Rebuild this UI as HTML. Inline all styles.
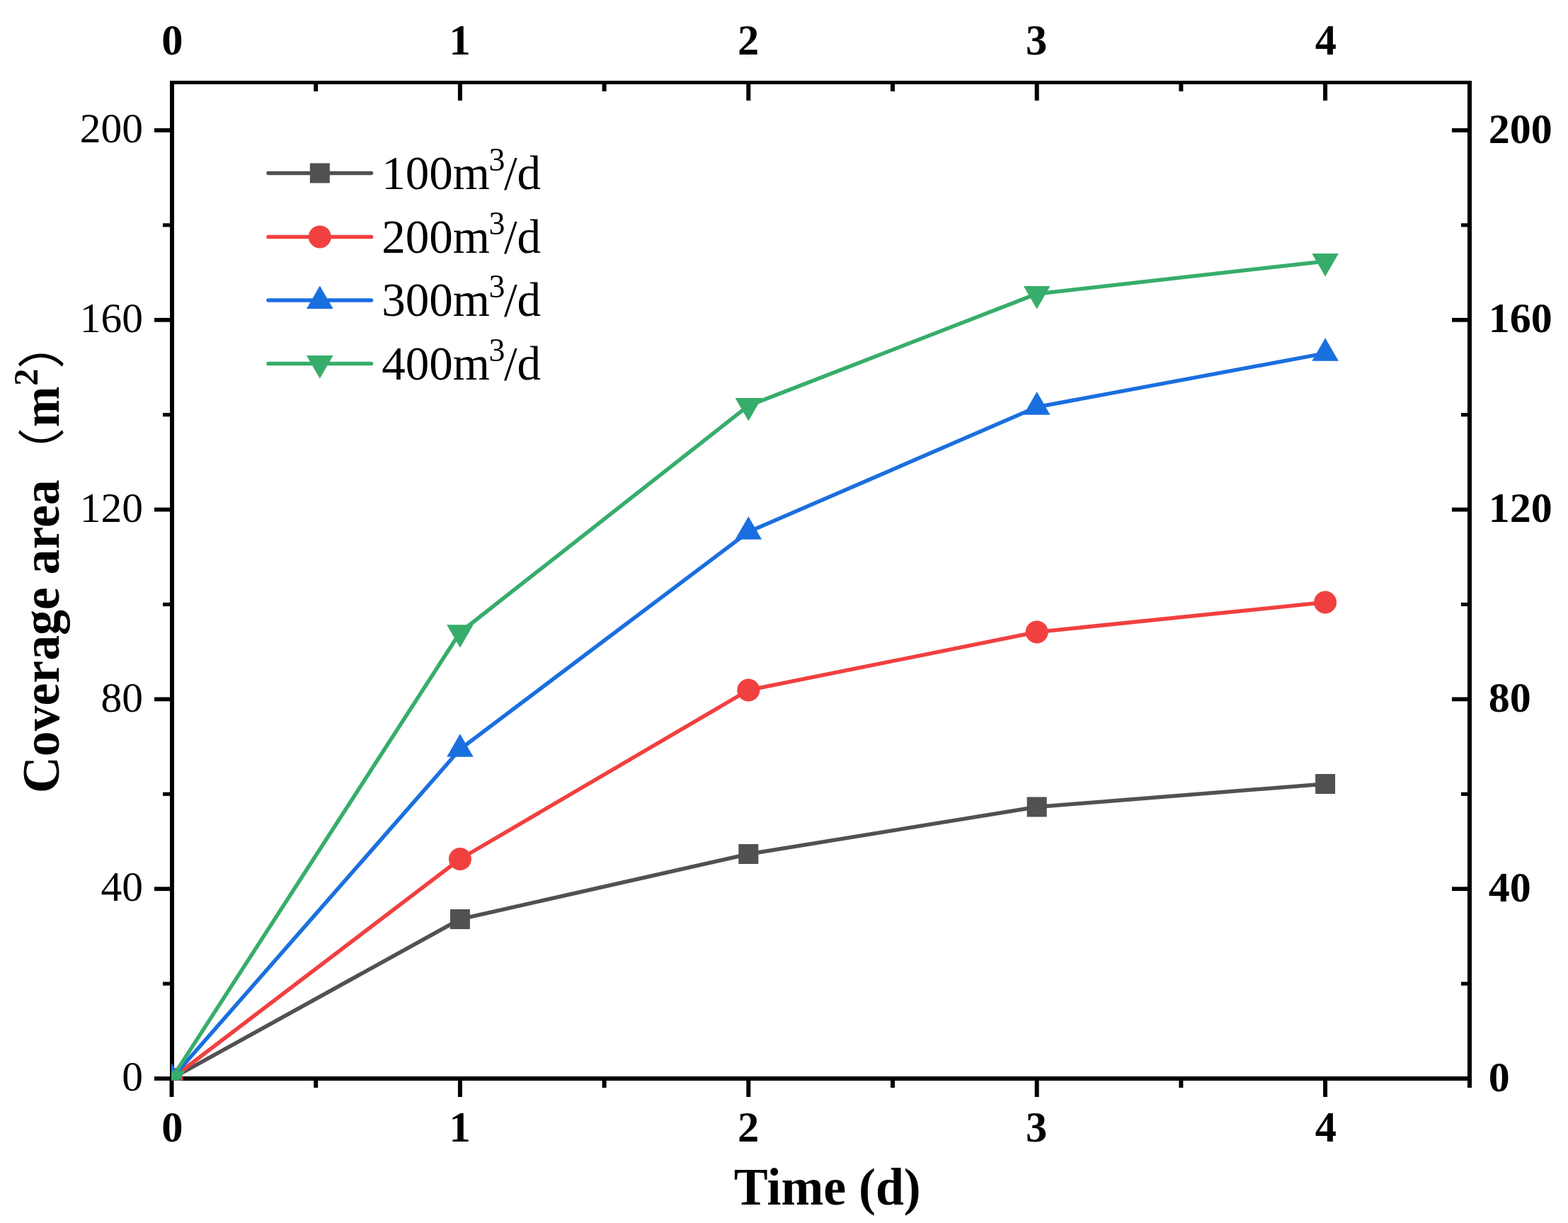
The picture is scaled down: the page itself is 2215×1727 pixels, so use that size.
<!DOCTYPE html>
<html><head><meta charset="utf-8"><title>Coverage area vs time</title>
<style>
html,body{margin:0;padding:0;background:#fff;}
svg{display:block;}
.r{font-family:"Liberation Serif","Times New Roman",serif;}
.b{font-family:"Liberation Serif","Times New Roman",serif;font-weight:bold;}
.cj{font-family:"Liberation Serif","Noto Sans CJK SC",sans-serif;font-weight:normal;}
</style></head><body>
<svg width="2215" height="1727" viewBox="0 0 2215 1727">
<rect width="2215" height="1727" fill="#fff"/>
<defs><clipPath id="pc"><rect x="242" y="116" width="1836" height="1409.5"/></clipPath></defs>
<g fill="#000"><rect x="240" y="114" width="6" height="1412"/><rect x="2073" y="114" width="6" height="1412"/><rect x="240" y="114" width="1839" height="5"/><rect x="240" y="1520" width="1839" height="6"/><rect x="239.50" y="1526" width="6" height="23"/><rect x="443.20" y="1526" width="6" height="10"/><rect x="646.90" y="1526" width="6" height="23"/><rect x="850.60" y="1526" width="6" height="10"/><rect x="1054.30" y="1526" width="6" height="23"/><rect x="1258.00" y="1526" width="6" height="10"/><rect x="1461.70" y="1526" width="6" height="23"/><rect x="1665.40" y="1526" width="6" height="10"/><rect x="1869.10" y="1526" width="6" height="23"/><rect x="2073.00" y="1526" width="6" height="10"/><rect x="443.20" y="119" width="6" height="10"/><rect x="646.90" y="119" width="6" height="23"/><rect x="850.60" y="119" width="6" height="10"/><rect x="1054.30" y="119" width="6" height="23"/><rect x="1258.00" y="119" width="6" height="10"/><rect x="1461.70" y="119" width="6" height="23"/><rect x="1665.40" y="119" width="6" height="10"/><rect x="1869.10" y="119" width="6" height="23"/><rect x="218" y="1520.10" width="22" height="5.8"/><rect x="230" y="1386.50" width="10" height="5.2"/><rect x="218" y="1252.30" width="22" height="5.8"/><rect x="230" y="1118.70" width="10" height="5.2"/><rect x="218" y="984.50" width="22" height="5.8"/><rect x="230" y="850.90" width="10" height="5.2"/><rect x="218" y="716.70" width="22" height="5.8"/><rect x="230" y="583.10" width="10" height="5.2"/><rect x="218" y="448.90" width="22" height="5.8"/><rect x="230" y="315.30" width="10" height="5.2"/><rect x="218" y="181.10" width="22" height="5.8"/><rect x="2064" y="1386.50" width="9" height="5.2"/><rect x="2051" y="1252.30" width="22" height="5.8"/><rect x="2064" y="1118.70" width="9" height="5.2"/><rect x="2051" y="984.50" width="22" height="5.8"/><rect x="2064" y="850.90" width="9" height="5.2"/><rect x="2051" y="716.70" width="22" height="5.8"/><rect x="2064" y="583.10" width="9" height="5.2"/><rect x="2051" y="448.90" width="22" height="5.8"/><rect x="2064" y="315.30" width="9" height="5.2"/><rect x="2051" y="181.10" width="22" height="5.8"/></g>
<g fill="#000"><text class="r" x="201.9" y="1540.1" font-size="59.5" text-anchor="end">0</text><text class="b" x="2102.8" y="1540.5" font-size="60">0</text><text class="r" x="201.9" y="1272.3" font-size="59.5" text-anchor="end">40</text><text class="b" x="2102.8" y="1272.7" font-size="60">40</text><text class="r" x="201.9" y="1004.5" font-size="59.5" text-anchor="end">80</text><text class="b" x="2102.8" y="1004.9" font-size="60">80</text><text class="r" x="201.9" y="736.7" font-size="59.5" text-anchor="end">120</text><text class="b" x="2102.8" y="737.1" font-size="60">120</text><text class="r" x="201.9" y="468.9" font-size="59.5" text-anchor="end">160</text><text class="b" x="2102.8" y="469.3" font-size="60">160</text><text class="r" x="201.9" y="201.1" font-size="59.5" text-anchor="end">200</text><text class="b" x="2102.8" y="201.5" font-size="60">200</text><text class="b" x="243.3" y="1611.7" font-size="60.5" text-anchor="middle">0</text><text class="b" x="243.3" y="76.9" font-size="60.5" text-anchor="middle">0</text><text class="b" x="649.5" y="1611.7" font-size="60.5" text-anchor="middle">1</text><text class="b" x="649.5" y="76.9" font-size="60.5" text-anchor="middle">1</text><text class="b" x="1057.1" y="1611.7" font-size="60.5" text-anchor="middle">2</text><text class="b" x="1057.1" y="76.9" font-size="60.5" text-anchor="middle">2</text><text class="b" x="1464.0" y="1611.7" font-size="60.5" text-anchor="middle">3</text><text class="b" x="1464.0" y="76.9" font-size="60.5" text-anchor="middle">3</text><text class="b" x="1872.9" y="1611.7" font-size="60.5" text-anchor="middle">4</text><text class="b" x="1872.9" y="76.9" font-size="60.5" text-anchor="middle">4</text></g>
<text class="b" transform="translate(1168.8,1701) scale(0.977,1)" font-size="73.5" text-anchor="middle">Time (d)</text>
<g transform="translate(83,0) rotate(-90)"><text class="b" transform="translate(-1119.9,0) scale(0.9754,1)" font-size="73.5">Coverage area</text><text transform="translate(-674.3,0) scale(1.05,1)" class="cj" font-size="67">（</text><text class="b" transform="translate(-603.1,0) scale(0.936,1)" font-size="73.5">m</text><text class="b" x="-544.8" y="-30.1" font-size="48.4">2</text><text transform="translate(-521.0,0) scale(1.05,1)" class="cj" font-size="67">）</text></g>
<g clip-path="url(#pc)">
<polyline points="242.50,1523.00 649.90,1298.00 1057.30,1206.00 1464.70,1139.50 1872.10,1107.00" fill="none" stroke="#515151" stroke-width="5.5" stroke-linejoin="round"/>
<g fill="#515151"><rect x="228.50" y="1509.00" width="28.0" height="28.0"/><rect x="635.90" y="1284.00" width="28.0" height="28.0"/><rect x="1043.30" y="1192.00" width="28.0" height="28.0"/><rect x="1450.70" y="1125.50" width="28.0" height="28.0"/><rect x="1858.10" y="1093.00" width="28.0" height="28.0"/></g>
<polyline points="242.50,1523.00 649.90,1213.00 1057.30,974.50 1464.70,892.50 1872.10,850.50" fill="none" stroke="#F14040" stroke-width="5.5" stroke-linejoin="round"/>
<g fill="#F14040"><circle cx="242.50" cy="1523.00" r="16.0"/><circle cx="649.90" cy="1213.00" r="16.0"/><circle cx="1057.30" cy="974.50" r="16.0"/><circle cx="1464.70" cy="892.50" r="16.0"/><circle cx="1872.10" cy="850.50" r="16.0"/></g>
<polyline points="242.50,1523.00 649.90,1058.00 1057.30,751.00 1464.70,574.80 1872.10,498.90" fill="none" stroke="#1A6FDF" stroke-width="5.5" stroke-linejoin="round"/>
<g fill="#1A6FDF"><polygon points="242.50,1501.29 261.30,1533.85 223.70,1533.85"/><polygon points="649.90,1036.29 668.70,1068.85 631.10,1068.85"/><polygon points="1057.30,729.29 1076.10,761.85 1038.50,761.85"/><polygon points="1464.70,553.09 1483.50,585.65 1445.90,585.65"/><polygon points="1872.10,477.19 1890.90,509.75 1853.30,509.75"/></g>
<polyline points="242.50,1523.00 649.90,893.00 1057.30,572.90 1464.70,414.90 1872.10,368.90" fill="none" stroke="#37AD6B" stroke-width="5.5" stroke-linejoin="round"/>
<g fill="#37AD6B"><polygon points="242.50,1544.71 261.30,1512.15 223.70,1512.15"/><polygon points="649.90,914.71 668.70,882.15 631.10,882.15"/><polygon points="1057.30,594.61 1076.10,562.05 1038.50,562.05"/><polygon points="1464.70,436.61 1483.50,404.05 1445.90,404.05"/><polygon points="1872.10,390.61 1890.90,358.05 1853.30,358.05"/></g>
</g>
<line x1="379" y1="244.5" x2="524.5" y2="244.5" stroke="#515151" stroke-width="5.5" stroke-linecap="round"/>
<g fill="#515151"><rect x="437.80" y="230.50" width="28.0" height="28.0"/></g>
<text class="r" x="539.3" y="266.7" font-size="67">100m</text>
<text class="r" x="690.5" y="240.7" font-size="46">3</text>
<text class="r" x="712" y="266.7" font-size="67">/d</text>
<line x1="379" y1="334.4" x2="524.5" y2="334.4" stroke="#F14040" stroke-width="5.5" stroke-linecap="round"/>
<g fill="#F14040"><circle cx="451.80" cy="334.40" r="16.0"/></g>
<text class="r" x="539.3" y="356.6" font-size="67">200m</text>
<text class="r" x="690.5" y="330.6" font-size="46">3</text>
<text class="r" x="712" y="356.6" font-size="67">/d</text>
<line x1="379" y1="424.1" x2="524.5" y2="424.1" stroke="#1A6FDF" stroke-width="5.5" stroke-linecap="round"/>
<g fill="#1A6FDF"><polygon points="451.80,403.39 470.60,435.95 433.00,435.95"/></g>
<text class="r" x="539.3" y="446.3" font-size="67">300m</text>
<text class="r" x="690.5" y="420.3" font-size="46">3</text>
<text class="r" x="712" y="446.3" font-size="67">/d</text>
<line x1="379" y1="513.6" x2="524.5" y2="513.6" stroke="#37AD6B" stroke-width="5.5" stroke-linecap="round"/>
<g fill="#37AD6B"><polygon points="451.80,534.61 470.60,502.05 433.00,502.05"/></g>
<text class="r" x="539.3" y="535.8" font-size="67">400m</text>
<text class="r" x="690.5" y="509.8" font-size="46">3</text>
<text class="r" x="712" y="535.8" font-size="67">/d</text>
</svg>
</body></html>
